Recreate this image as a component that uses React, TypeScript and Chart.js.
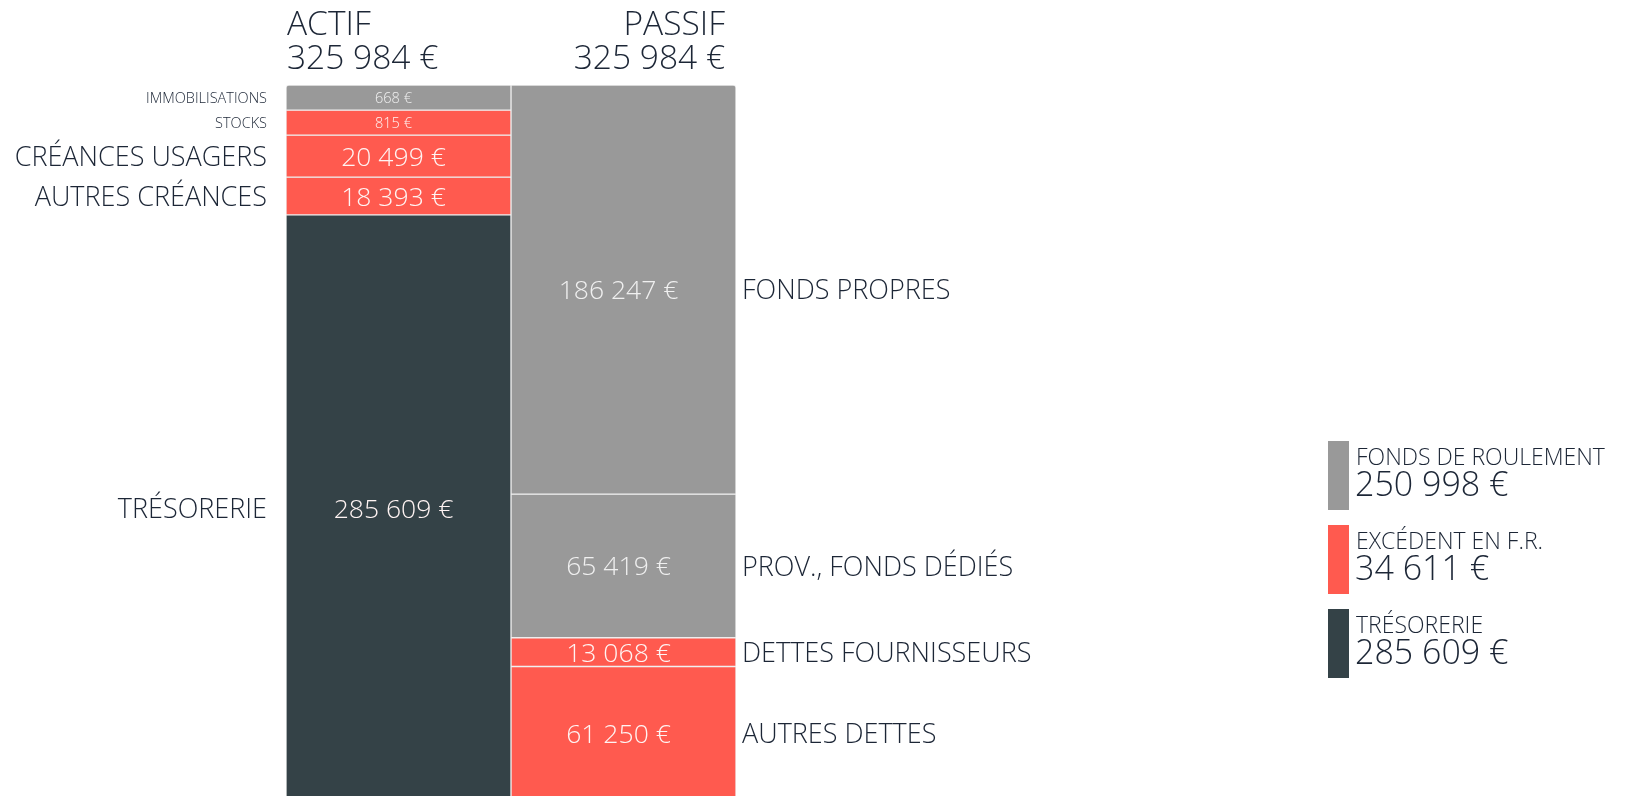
import React, { useEffect, useRef } from "react";
import { Chart, registerables } from "chart.js";

Chart.register(...registerables);

// ---- data ----
const COLUMNS = ["ACTIF", "PASSIF"];
const COLUMN_TOTALS = [325984, 325984];

const ACTIF_LABELS = ["IMMOBILISATIONS", "STOCKS", "CRÉANCES USAGERS", "AUTRES CRÉANCES", "TRÉSORERIE"];
const ACTIF_VALUES = [668, 815, 20499, 18393, 285609];
const ACTIF_KINDS = ["fr", "excedent", "excedent", "excedent", "tresorerie"];

const PASSIF_LABELS = ["FONDS PROPRES", "PROV., FONDS DÉDIÉS", "DETTES FOURNISSEURS", "AUTRES DETTES"];
const PASSIF_VALUES = [186247, 65419, 13068, 61250];
const PASSIF_KINDS = ["fr", "fr", "excedent", "excedent"];

const LEGEND_LABELS = ["FONDS DE ROULEMENT", "EXCÉDENT EN F.R.", "TRÉSORERIE"];
const LEGEND_VALUES = [250998, 34611, 285609];
const LEGEND_KINDS = ["fr", "excedent", "tresorerie"];

// ---- styles ----
const COLORS: Record<string, string> = {
  fr: "#999999",
  excedent: "#ff5a4f",
  tresorerie: "#344247",
};
const TEXT = "#1c2636";
const FONT = '"Open Sans", "Noto Sans", sans-serif';
const W = 350;
const MIN_SHARE = 0.035;

const fmt = (v: number) => String(v).replace(/\B(?=(\d{3})+(?!\d))/g, " ") + " €";

function withMinShare(values: number[], total: number) {
  const min = total * MIN_SHARE;
  const small = values.map((v) => v < min);
  const smallSum = small.filter(Boolean).length * min;
  const bigSum = values.reduce((s, v, i) => (small[i] ? s : s + v), 0);
  const k = (total - smallSum) / bigSum;
  return { shown: values.map((v, i) => (small[i] ? min : v * k)), small };
}

export default function App() {
  const ref = useRef<HTMLCanvasElement | null>(null);

  useEffect(() => {
    const canvas = ref.current!;
    const a = withMinShare(ACTIF_VALUES, COLUMN_TOTALS[0]);
    const p = withMinShare(PASSIF_VALUES, COLUMN_TOTALS[1]);

    type Seg = { label: string; value: number; kind: string; small: boolean; col: number };
    const segs: Seg[] = [];
    const datasets: any[] = [];
    ACTIF_LABELS.forEach((label, i) => {
      segs.push({ label, value: ACTIF_VALUES[i], kind: ACTIF_KINDS[i], small: a.small[i], col: 0 });
      datasets.push({
        label,
        data: [a.shown[i], null],
        backgroundColor: COLORS[ACTIF_KINDS[i]],
        borderColor: "#eeeeee",
        borderWidth: 1,
        borderSkipped: false,
        borderRadius: i === 0 ? { topLeft: 3, topRight: 0, bottomLeft: 0, bottomRight: 0 } : 0,
      });
    });
    PASSIF_LABELS.forEach((label, i) => {
      segs.push({ label, value: PASSIF_VALUES[i], kind: PASSIF_KINDS[i], small: p.small[i], col: 1 });
      datasets.push({
        label,
        data: [null, p.shown[i]],
        backgroundColor: COLORS[PASSIF_KINDS[i]],
        borderColor: "#eeeeee",
        borderWidth: 1,
        borderSkipped: false,
        borderRadius: i === 0 ? { topLeft: 0, topRight: 3, bottomLeft: 0, bottomRight: 0 } : 0,
      });
    });

    const labelsPlugin = {
      id: "bilanLabels",
      afterDatasetsDraw(chart: any) {
        const ctx = chart.ctx as CanvasRenderingContext2D;
        const area = chart.chartArea;
        ctx.save();
        // headers
        ctx.fillStyle = TEXT;
        ctx.font = `${W} 33.5px ${FONT}`;
        ctx.textBaseline = "alphabetic";
        ctx.textAlign = "left";
        ctx.fillText(COLUMNS[0], area.left + 1, area.top - 50);
        ctx.fillText(fmt(COLUMN_TOTALS[0]), area.left + 1, area.top - 16);
        ctx.textAlign = "right";
        ctx.fillText(COLUMNS[1], area.right - 11, area.top - 50);
        ctx.fillText(fmt(COLUMN_TOTALS[1]), area.right - 11, area.top - 16);

        // segments
        segs.forEach((s, i) => {
          const meta = chart.getDatasetMeta(i);
          const bar = meta.data[s.col];
          if (!bar) return;
          const cy = (bar.y + bar.base) / 2;
          const valSize = s.small ? 14.5 : 26.5;
          const labSize = s.small ? 14.5 : 27;
          // value inside
          ctx.font = `${W} ${valSize}px ${FONT}`;
          ctx.textAlign = "center";
          ctx.fillStyle = s.kind === "fr" ? "#f0f0f0" : "#fff4f3";
          ctx.fillText(fmt(s.value), bar.x - 5, cy + valSize * 0.36);
          // category label
          ctx.font = `${W} ${labSize}px ${FONT}`;
          ctx.fillStyle = TEXT;
          if (s.col === 0) {
            ctx.textAlign = "right";
            ctx.fillText(s.label, area.left - 19, cy + labSize * 0.36);
          } else {
            ctx.textAlign = "left";
            ctx.fillText(s.label, area.right + 6, cy + labSize * 0.36);
          }
        });

        // legend
        LEGEND_LABELS.forEach((label, i) => {
          const top = 441 + i * 84;
          ctx.fillStyle = COLORS[LEGEND_KINDS[i]];
          ctx.fillRect(1328, top, 21, 69);
          ctx.fillStyle = TEXT;
          ctx.textAlign = "left";
          ctx.font = `${W} 23px ${FONT}`;
          ctx.fillText(label, 1356, top + 24);
          ctx.font = `${W} 34px ${FONT}`;
          ctx.fillText(fmt(LEGEND_VALUES[i]), 1355, top + 55);
        });
        ctx.restore();
      },
    };

    const chart = new Chart(canvas, {
      type: "bar",
      data: { labels: COLUMNS, datasets },
      options: {
        responsive: false,
        animation: false,
        events: [],
        layout: { padding: { left: 286, right: 1625 - 736, top: 85, bottom: 5 } },
        datasets: { bar: { categoryPercentage: 1, barPercentage: 1 } } as any,
        plugins: { legend: { display: false }, tooltip: { enabled: false } },
        scales: {
          x: { stacked: true, display: false },
          y: { stacked: true, display: false, reverse: true, min: 0, max: COLUMN_TOTALS[0] },
        },
      },
      plugins: [labelsPlugin],
    });
    return () => chart.destroy();
  }, []);

  return (
    <div style={{ position: "fixed", left: 0, top: 0, width: 1625, height: 796, overflow: "hidden", background: "#fff" }}>
      <canvas ref={ref} width={1625} height={806} style={{ display: "block", width: 1625, height: 806 }} />
    </div>
  );
}
